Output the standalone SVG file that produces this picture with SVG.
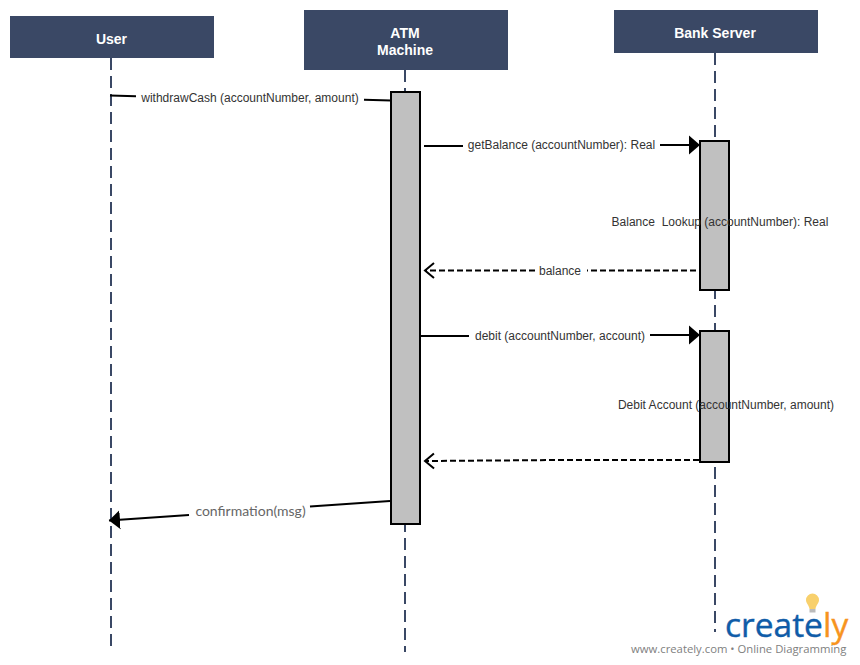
<svg xmlns="http://www.w3.org/2000/svg" width="860" height="665" viewBox="0 0 860 665">
<style>
.head{fill:#3a4865}
.ht{font:bold 14px "Liberation Sans",Arial,sans-serif;fill:#fff;text-anchor:middle}
.life{stroke:#3a4865;stroke-width:2;stroke-dasharray:12 6;fill:none}
.act{fill:#c0c0c0;stroke:#000;stroke-width:2}
.c{stroke:#000;stroke-width:2;fill:none}
.d{stroke-dasharray:6 3}
.l{font:12px "Liberation Sans",Arial,sans-serif;fill:#333;text-anchor:middle;white-space:pre}
</style>
<defs>
<marker id="tri" markerUnits="userSpaceOnUse" markerWidth="12" markerHeight="20" refX="11" refY="10" orient="auto"><path d="M0 0.500L11 10L0 19.500Z" fill="#000"/></marker>
<marker id="open" markerUnits="userSpaceOnUse" markerWidth="14" markerHeight="20" refX="11" refY="9" orient="auto"><path d="M2 1.500L11 9L2 16.500" fill="none" stroke="#000" stroke-width="2"/></marker>
</defs>
<g id="lifelines">
<path class="life" d="M111 58V648"/>
<path class="life" d="M405 70V652"/>
<path class="life" d="M715 53V632"/>
</g>
<g id="node-user"><rect class="head" x="10" y="16" width="204" height="42"/><text class="ht" x="111.500" y="44">User</text></g>
<g id="node-atm"><rect class="head" x="304" y="10" width="204" height="60"/><text class="ht" x="405" y="38">ATM</text><text class="ht" x="405" y="55">Machine</text></g>
<g id="node-bank"><rect class="head" x="614" y="10" width="204" height="43"/><text class="ht" x="715" y="38">Bank Server</text></g>
<g id="activation-atm"><rect class="act" x="391" y="92" width="29" height="432"/></g>
<g id="activation-bank1"><rect class="act" x="700" y="141" width="29" height="149"/></g>
<g id="activation-bank2"><rect class="act" x="700" y="331" width="29" height="131"/></g>
<g id="connectors">
<path class="c" d="M110 95.500L136 96.300"/><path class="c" d="M364 99.800L391 100.500"/>
<path class="c" d="M424 146H463"/><path class="c" d="M660 145H700" marker-end="url(#tri)"/>
<path class="c d" d="M696 270.500H587"/><path class="c d" d="M535 270.500H425" marker-end="url(#open)"/>
<path class="c" d="M421 336H469"/><path class="c" d="M650 335H700" marker-end="url(#tri)"/>
<path class="c d" d="M699 460H562L425 461" marker-end="url(#open)"/>
<path class="c" d="M390 501L310 506.500"/><path class="c" d="M189 515L109 520.500" marker-end="url(#tri)"/>
</g>
<g id="labels">
<text class="l" x="250" y="102">withdrawCash (accountNumber, amount)</text>
<text class="l" x="561.500" y="149">getBalance (accountNumber): Real</text>
<text class="l" x="720" y="226">Balance  Lookup (accountNumber): Real</text>
<text class="l" x="560" y="275">balance</text>
<text class="l" x="560" y="340">debit (accountNumber, account)</text>
<text class="l" x="726" y="409">Debit Account (accountNumber, amount)</text>
<text x="250.500" y="516" style="font:14px Lato,sans-serif;fill:#666;text-anchor:middle">confirmation(msg)</text>
</g>
<g id="logo">
<path d="M806 600a6.500 6.500 0 0 1 13 0c0 3.500-3 5-3.500 9h-6c-.5-4-3.500-5.500-3.500-9Z" fill="#f8d06c"/><rect x="809.500" y="609" width="6" height="3.500" fill="#bbb"/>
<text x="725" y="637" style="font:33.500px 'Open Sans',sans-serif;fill:#0f5ca8;stroke:#0f5ca8;stroke-width:.4">creat<tspan>e</tspan><tspan fill="#f7941e" stroke="#f7941e">ly</tspan></text>
<text x="631" y="653" style="font:11.300px 'Open Sans',sans-serif;fill:#808080">www.creately.com • Online Diagramming</text>
</g>
</svg>
